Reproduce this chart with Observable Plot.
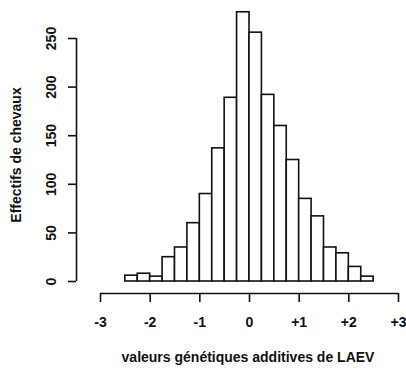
<!DOCTYPE html>
<html>
<head>
<meta charset="utf-8">
<script src="https://cdn.jsdelivr.net/npm/d3@7"></script>
<script src="https://cdn.jsdelivr.net/npm/@observablehq/plot@0.6"></script>
<style>
  html, body { margin: 0; padding: 0; background: #fff; }
</style>
</head>
<body>
<div id="chart"></div>
<script>
// Histogram bins (left edges), width 0.25
const binStart = [-3, -2.75, -2.5, -2.25, -2, -1.75, -1.5, -1.25, -1, -0.75, -0.5, -0.25,
                  0, 0.25, 0.5, 0.75, 1, 1.25, 1.5, 1.75, 2, 2.25, 2.5, 2.75];
const binWidth = 0.25;
const counts = [0, 0, 6, 8, 5, 25, 35, 60, 90, 137, 189, 277,
                256, 192, 160, 125, 85, 67, 35, 29, 15, 5, 0, 0];
const xTicks = [-3, -2, -1, 0, 1, 2, 3];
const xTickLabels = ["-3", "-2", "-1", "0", "+1", "+2", "+3"];
const yTicks = [0, 50, 100, 150, 200, 250];
const xTitle = "valeurs génétiques additives de LAEV";
const yTitle = "Effectifs de chevaux";

const bins = binStart.map((x, i) => ({x1: x, x2: x + binWidth, n: counts[i]}));
const ink = "#111";

const chart = Plot.plot({
  width: 406,
  height: 372,
  marginLeft: 100,
  marginRight: 8,
  marginTop: 38,
  marginBottom: 91,
  style: {fontFamily: "'Liberation Sans', Arial, sans-serif", fontSize: "14px", fontWeight: "bold", color: ink, background: "#fff"},
  x: {domain: [-3, 3]},
  y: {domain: [0, 250]},
  marks: [
    Plot.rectY(bins, {x1: "x1", x2: "x2", y: "n", fill: "white", stroke: ink, strokeWidth: 1.6}),
    // x axis
    Plot.ruleY([0], {x1: -3, x2: 3, dy: 12, stroke: ink, strokeWidth: 1.6}),
    Plot.axisX({ticks: xTicks, tickFormat: d => xTickLabels[xTicks.indexOf(d)], tickSize: 9, tickPadding: 15, dy: 12, label: null, stroke: ink, strokeWidth: 1.6}),
    // y axis
    Plot.ruleX([-3], {y1: 0, y2: 250, dx: -24, stroke: ink, strokeWidth: 1.6}),
    Plot.axisY({ticks: yTicks, tickFormat: () => "", tickSize: 8, dx: -24, label: null, stroke: ink, strokeWidth: 1.6}),
    Plot.text(yTicks, {frameAnchor: "left", y: d => d, text: d => String(d), rotate: -90, dx: -49, textAnchor: "middle", lineAnchor: "middle", fill: ink}),
    // titles
    Plot.text([xTitle], {frameAnchor: "bottom", text: d => d, dy: 76, dx: -1.5, lineAnchor: "middle", fill: ink}),
    Plot.text([yTitle], {frameAnchor: "left", text: d => d, rotate: -90, dx: -84, dy: -5, textAnchor: "middle", lineAnchor: "middle", fill: ink})
  ]
});
document.getElementById("chart").appendChild(chart);
</script>
</body>
</html>
